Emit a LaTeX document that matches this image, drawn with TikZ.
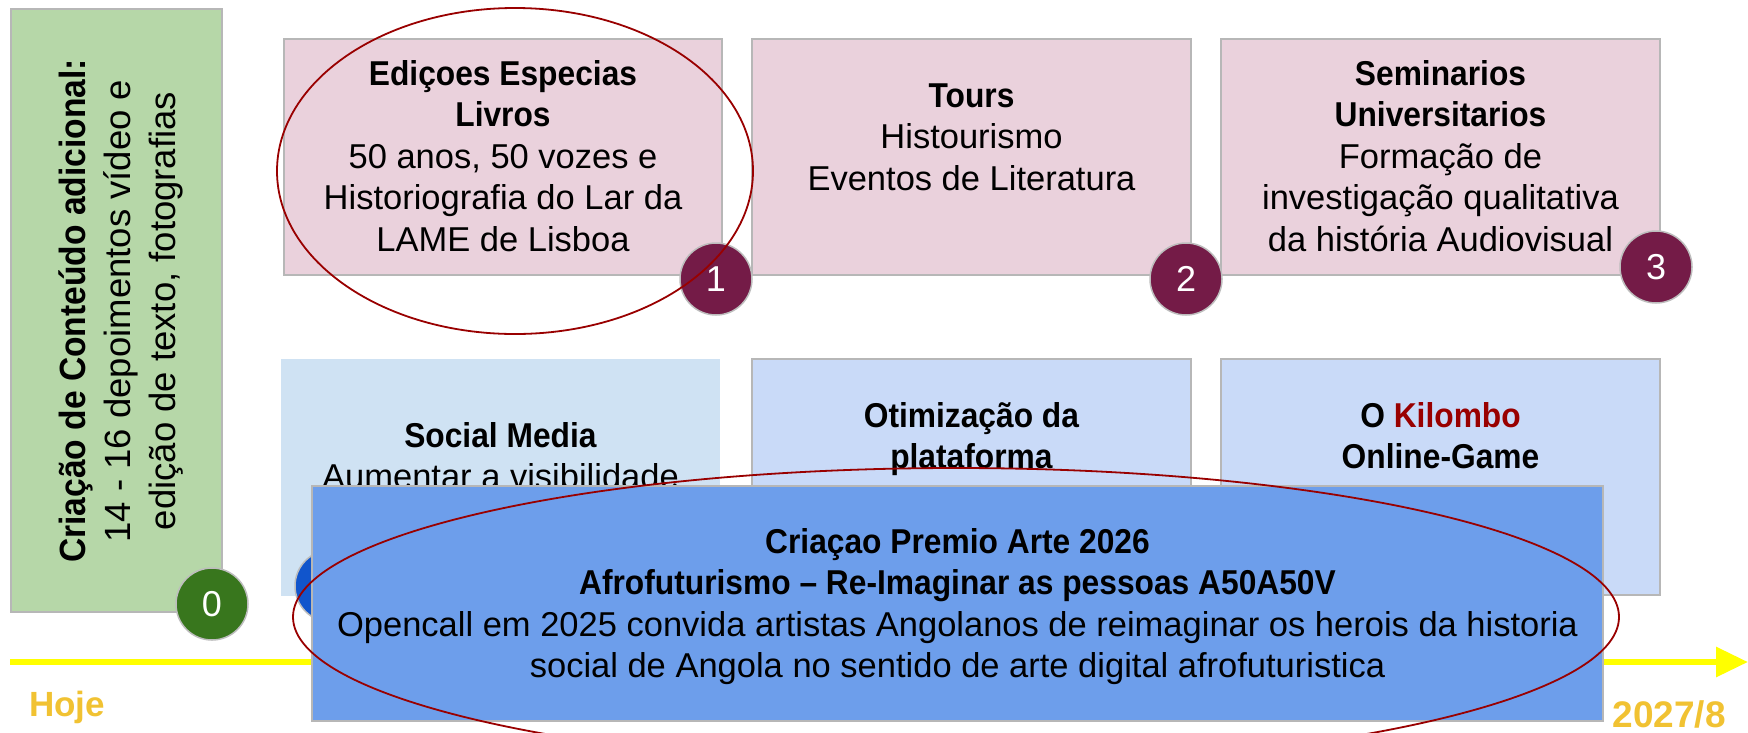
\documentclass[tikz,border=0pt]{standalone}
\usepackage{fontspec}
\setmainfont{Liberation Sans}[BoldFeatures={FakeStretch=0.92}]
\newfontfamily\yrfont{Liberation Sans}
\usetikzlibrary{arrows.meta}
\definecolor{pinkf}{HTML}{EAD1DC}
\definecolor{lblue}{HTML}{CFE2F3}
\definecolor{cblue}{HTML}{C9DAF8}
\definecolor{bigblue}{HTML}{6D9EEB}
\definecolor{greenf}{HTML}{B6D7A8}
\definecolor{bgray}{HTML}{B7B7B7}
\definecolor{cgray}{HTML}{BDBDBD}
\definecolor{maroon}{HTML}{741B47}
\definecolor{dgreen}{HTML}{38761D}
\definecolor{dblue}{HTML}{1155CC}
\definecolor{kred}{HTML}{990000}
\definecolor{tyellow}{HTML}{FFFF00}
\definecolor{gold}{HTML}{F1C232}
\newcommand\tstrut{\rule{0pt}{34pt}}
\begin{document}
\begin{tikzpicture}[x=1pt,y=-1pt,
  box/.style={rectangle, inner sep=0pt, line width=1.5pt, draw=bgray},
  pinkbox/.style={box, fill=pinkf, minimum width=438, minimum height=236},
  bluebox/.style={box, fill=cblue, minimum width=439, minimum height=237},
  txt/.style={inner sep=0pt, align=center, anchor=north, font=\fontsize{34.5}{41.5}\selectfont},
  vtxt/.style={inner sep=0pt, align=center, anchor=north, rotate=90, font=\fontsize{36.5}{45}\selectfont},
  circ/.style={circle, minimum size=72, inner sep=0pt, draw=cgray, line width=1.5pt, text=white, font=\fontsize{36}{40}\selectfont},
  hl/.style={draw=kred, line width=1.8pt},
  tl/.style={draw=tyellow, line width=6pt, -{Triangle[length=32pt,width=29pt]}},
  yr/.style={inner sep=0pt, text=gold, font=\yrfont\bfseries}
]
\useasboundingbox (0,0) rectangle (1748,732);
\clip (0,0) rectangle (1748,732);
\fill[white] (0,0) rectangle (1748,732);

% green box
\node[box, fill=greenf, minimum width=211, minimum height=603] (g) at (116.5,310.5) {};
\node[vtxt] (gt) at (51,311) {\tstrut\textbf{Criação de Conteúdo adicional:}\\14 - 16 depoimentos vídeo e\\edição de texto, fotografias};
\node[circ, fill=dgreen] (c0) at (212,604) {0};

% timeline
\coordinate (tls) at (10,662);
\coordinate (tle) at (1748,662);
\draw[tl] (tls) -- (tle);

% top row
\node[pinkbox] (b1) at (503,157) {};
\node[txt] (t1) at (503,51) {\tstrut\textbf{Ediçoes Especias}\\\textbf{Livros}\\50 anos, 50 vozes e\\Historiografia do Lar da\\LAME de Lisboa};
\node[pinkbox, minimum width=439] (b2) at (971.5,157) {};
\node[txt] (t2) at (971.5,73) {\tstrut\textbf{Tours}\\Histourismo\\Eventos de Literatura};
\node[pinkbox, minimum width=439] (b3) at (1440.5,157) {};
\node[txt] (t3) at (1440.5,51) {\tstrut\textbf{Seminarios}\\\textbf{Universitarios}\\Formação de\\investigação qualitativa\\da história Audiovisual};
\node[circ, fill=maroon] (c1) at (716,279) {1};
\node[circ, fill=maroon] (c2) at (1186,279) {2};
\node[circ, fill=maroon] (c3) at (1656,267) {3};
\draw[hl] (515,171) ellipse [x radius=238, y radius=163];

% bottom row
\node[box, draw=none, fill=lblue, minimum width=439, minimum height=237] (b4) at (500.5,477.5) {};
\node[txt] (t4) at (500.5,413) {\tstrut\textbf{Social Media}\\Aumentar a visibilidade};
\node[bluebox] (b5) at (971.5,477.5) {};
\node[txt] (t5) at (971.5,393) {\tstrut\textbf{Otimização da}\\\textbf{plataforma}};
\node[bluebox, minimum height=236] (b6) at (1440.5,477) {};
\node[txt] (t6) at (1440.5,393) {\tstrut\textbf{O \textcolor{kred}{Kilombo}}\\\textbf{Online-Game}};
\node[circ, fill=dblue] (c4) at (331,586) {};

% big box
\node[box, fill=bigblue, minimum width=1291, minimum height=235] (b7) at (957.5,603.5) {};
\node[txt] (t7) at (957.5,519) {\tstrut\textbf{Criaçao Premio Arte 2026}\\\textbf{Afrofuturismo – Re-Imaginar as pessoas A50A50V}\\Opencall em 2025 convida artistas Angolanos de reimaginar os herois da historia\\social de Angola no sentido de arte digital afrofuturistica};
\draw[hl] (956,617) ellipse [x radius=663, y radius=149];

% timeline labels
\node[yr, anchor=base west, font=\yrfont\bfseries\fontsize{35}{40}\selectfont] (hoje) at (29,716) {Hoje};
\node[yr, anchor=base east, font=\yrfont\bfseries\fontsize{37}{42}\selectfont] (fim) at (1726,727) {2027/8};
\end{tikzpicture}
\end{document}
